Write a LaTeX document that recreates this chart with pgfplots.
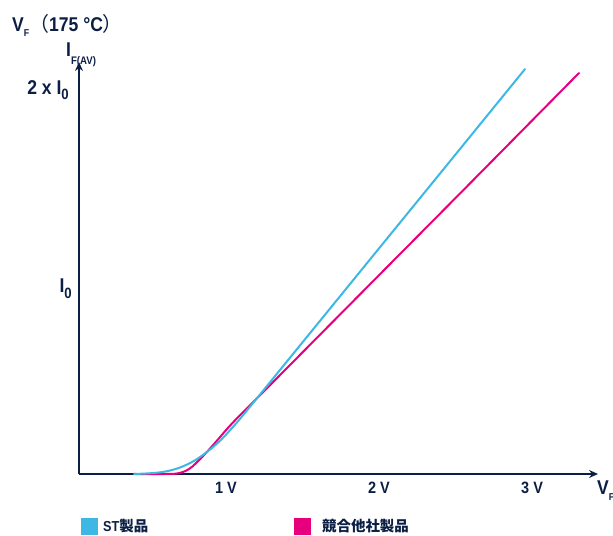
\documentclass[border=0pt]{standalone}
\usepackage{pgfplots}
\pgfplotsset{compat=1.18}
\usetikzlibrary{arrows.meta}
\usepackage{fontspec}
\setmainfont{Liberation Sans}[FakeStretch=0.88]
\newfontfamily\cjk{Noto Sans CJK JP}

\definecolor{navy}{HTML}{0B1F45}
\definecolor{stcyan}{HTML}{3DB7E4}
\definecolor{compmag}{HTML}{E6007E}

% pixel position in the reference -> picture coordinates (origin = axis corner)
\newcommand{\px}[2]{({(#1-79)*1bp},{(474-#2)*1bp})}

\begin{document}
\begin{tikzpicture}
\path[use as bounding box] \px{0}{0} rectangle \px{613}{536};

\begin{axis}[
    at={(0,0)}, anchor=south west,
    scale only axis, width=519bp, height=412bp,
    xmin=0.0392, xmax=3.431, ymin=0, ymax=2.215,
    axis lines=left,
    axis line style={navy, line width=2bp, -{Stealth[length=9bp, width=8bp]}},
    xtick={1,2,3}, xticklabels={1 V,2 V,3 V},
    ytick=\empty,
    major tick length=0pt,
    xticklabel style={anchor=north, inner sep=0pt, yshift=-8bp,
        font=\fontsize{16.5}{16.5}\selectfont\bfseries, text=navy},
    clip=false,
]
% competitor
\addplot[compmag, line width=2bp, smooth, tension=0.5, line cap=round] coordinates {
(0.40,0) (0.60,0) (0.66,0.001) (0.70,0.006) (0.74,0.018) (0.78,0.040)
(0.82,0.072) (0.86,0.105) (0.90,0.141) (0.95,0.188) (1.00,0.236)
(1.05,0.281) (1.10,0.323) (1.15,0.364) (1.20,0.405) (1.30,0.488)
(1.40,0.571) (2.0,1.069) (2.6,1.567) (3.307,2.156)
};
% ST
\addplot[stcyan, line width=2bp, smooth, tension=0.5, line cap=round] coordinates {
(0.40,0) (0.46,0.002) (0.52,0.005) (0.57,0.009) (0.63,0.018) (0.69,0.032)
(0.74,0.049) (0.79,0.070) (0.84,0.097) (0.89,0.128) (0.94,0.163)
(0.99,0.203) (1.04,0.248) (1.09,0.295) (1.14,0.345) (1.20,0.405)
(1.30,0.506) (1.9,1.112) (2.5,1.718) (2.954,2.177)
};
\end{axis}

\begin{scope}[every node/.style={inner sep=0pt, text=navy}]
\node[anchor=base west] at \px{12}{32} {\fontsize{20}{20}\selectfont\bfseries
  V\raisebox{-5bp}{\fontsize{10}{10}\selectfont F}{\cjk\mdseries （}175 °C{\cjk\mdseries ）}};
\node[anchor=base west] at \px{66}{57} {\fontsize{20}{20}\selectfont\bfseries
  I\raisebox{-8bp}{\fontsize{11}{11}\selectfont F(AV)}};
\node[anchor=base east] at \px{69}{95} {\fontsize{20}{20}\selectfont\bfseries
  2 x I\raisebox{-5bp}{\fontsize{15}{15}\selectfont 0}};
\node[anchor=base east] at \px{72}{293} {\fontsize{20}{20}\selectfont\bfseries
  I\raisebox{-6bp}{\fontsize{15}{15}\selectfont 0}};
\node[anchor=base west] at \px{597}{495} {\fontsize{20}{20}\selectfont\bfseries
  V\raisebox{-6bp}{\fontsize{10}{10}\selectfont F}};

\fill[stcyan] \px{81}{518} rectangle \px{98}{535};
\node[anchor=base west] at \px{103}{532} {\fontsize{14.5}{14.5}\selectfont\bfseries
  ST{\cjk 製品}};
\fill[compmag] \px{294}{518} rectangle \px{311}{535};
\node[anchor=base west] at \px{322}{532} {\fontsize{14.5}{14.5}\selectfont\bfseries
  {\cjk 競合他社製品}};
\end{scope}
\end{tikzpicture}
\end{document}
